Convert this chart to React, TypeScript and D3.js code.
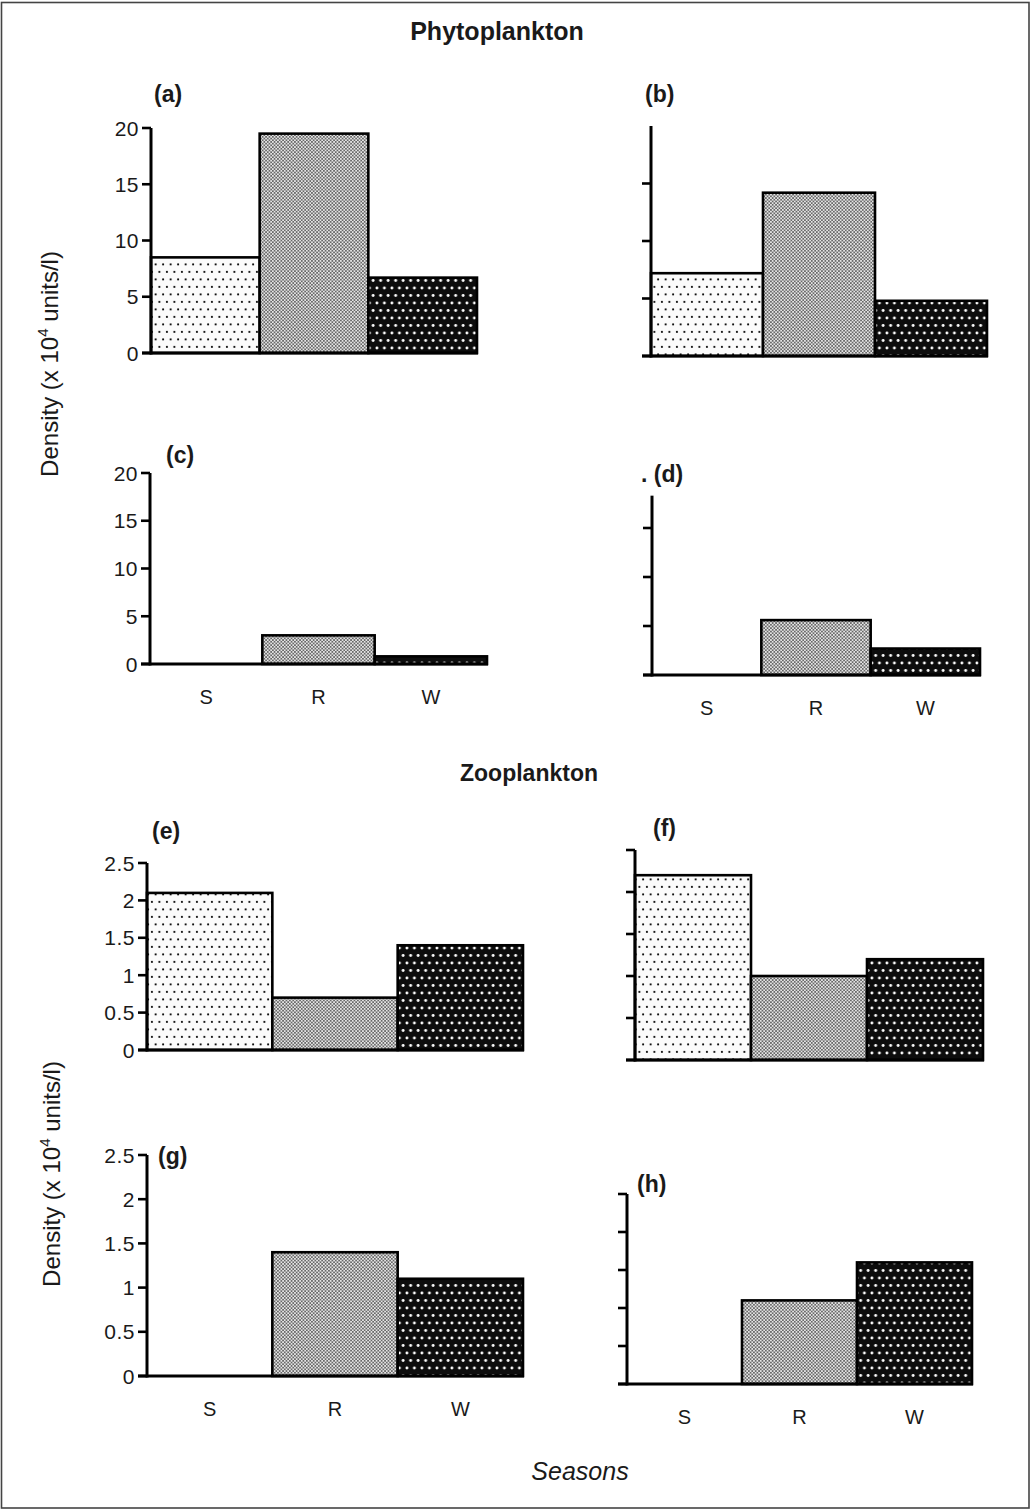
import React from "react";
import * as d3 from "d3";

// Seasons on the x axis: Summer, Rainy, Winter
const seasons = ["S", "R", "W"];

// Phytoplankton density (x 10^4 units/l) per station panel
const phytoA = [8.5, 19.5, 6.7];
const phytoB = [7.2, 14.2, 4.8];
const phytoC = [0, 3.0, 0.8];
const phytoD = [0, 5.6, 2.7];

// Zooplankton density (x 10^4 units/l) per station panel
const zooE = [2.1, 0.7, 1.4];
const zooF = [2.2, 1.0, 1.2];
const zooG = [0, 1.4, 1.1];
const zooH = [0, 1.1, 1.6];

// Axis tick values
const phytoTicks = [0, 5, 10, 15, 20];
const phytoMinorTicks = [0, 5, 10, 15];
const zooTicks = [0, 0.5, 1, 1.5, 2, 2.5];

const phytoMax = 20;
const zooMax = 2.5;

type Panel = {
  id: string;
  values: number[];
  max: number;
  ticks: number[];
  labeled: boolean;
  showSeasons: boolean;
  axisTopValue: number;
};

const panels: Panel[] = [
  { id: "a", values: phytoA, max: phytoMax, ticks: phytoTicks, labeled: true, showSeasons: false, axisTopValue: 20 },
  { id: "b", values: phytoB, max: phytoMax, ticks: phytoMinorTicks, labeled: false, showSeasons: false, axisTopValue: 20 },
  { id: "c", values: phytoC, max: phytoMax, ticks: phytoTicks, labeled: true, showSeasons: true, axisTopValue: 20 },
  { id: "d", values: phytoD, max: phytoMax, ticks: phytoMinorTicks, labeled: false, showSeasons: true, axisTopValue: 18.3 },
  { id: "e", values: zooE, max: zooMax, ticks: zooTicks, labeled: true, showSeasons: false, axisTopValue: 2.5 },
  { id: "f", values: zooF, max: zooMax, ticks: zooTicks, labeled: false, showSeasons: false, axisTopValue: 2.5 },
  { id: "g", values: zooG, max: zooMax, ticks: zooTicks, labeled: true, showSeasons: true, axisTopValue: 2.5 },
  { id: "h", values: zooH, max: zooMax, ticks: zooTicks, labeled: false, showSeasons: true, axisTopValue: 2.5 },
];

// Pixel frame of each panel: axis x, right end of bars, baseline y, y of the max value,
// and the position of the "(x)" tag.
const frames: Record<string, { x0: number; x1: number; base: number; top: number; tagX: number; tagY: number; tag: string }> = {
  a: { x0: 151, x1: 477, base: 353, top: 128, tagX: 154, tagY: 102, tag: "(a)" },
  b: { x0: 651, x1: 987, base: 356, top: 126, tagX: 645, tagY: 102, tag: "(b)" },
  c: { x0: 150, x1: 487, base: 664, top: 473, tagX: 166, tagY: 463, tag: "(c)" },
  d: { x0: 652, x1: 980, base: 675, top: 479, tagX: 641, tagY: 482, tag: ". (d)" },
  e: { x0: 147, x1: 523, base: 1050, top: 863, tagX: 152, tagY: 839, tag: "(e)" },
  f: { x0: 635, x1: 983, base: 1060, top: 850, tagX: 653, tagY: 836, tag: "(f)" },
  g: { x0: 147, x1: 523, base: 1376, top: 1155, tagX: 158, tagY: 1164, tag: "(g)" },
  h: { x0: 627, x1: 972, base: 1384, top: 1194, tagX: 637, tagY: 1192, tag: "(h)" },
};

const fillFor: Record<string, string> = { S: "url(#patS)", R: "url(#patR)", W: "url(#patW)" };

const FONT = "'Liberation Sans', Arial, Helvetica, sans-serif";
const INK = "#1a1a1a";

function fmt(v: number) {
  return String(v);
}

function BarPanel({ p }: { p: Panel }) {
  const f = frames[p.id];
  const x = d3.scaleBand<string>().domain(seasons).range([f.x0, f.x1]).padding(0);
  const y = d3.scaleLinear().domain([0, p.max]).range([f.base, f.top]);
  const tickLen = 9;
  return (
    <g>
      {/* bars */}
      {seasons.map((s, i) => {
        const v = p.values[i];
        if (v <= 0) return null;
        return (
          <rect
            key={s}
            x={x(s)!}
            y={y(v)}
            width={x.bandwidth()}
            height={y(0) - y(v)}
            fill={fillFor[s]}
            stroke="#000"
            strokeWidth={2.6}
          />
        );
      })}
      {/* y axis */}
      <line x1={f.x0} x2={f.x0} y1={y(0) + 1.5} y2={y(p.axisTopValue)} stroke="#000" strokeWidth={3} />
      {p.ticks.map((t) => (
        <g key={t}>
          <line x1={f.x0 - tickLen} x2={f.x0} y1={y(t)} y2={y(t)} stroke="#000" strokeWidth={2.6} />
          {p.labeled && (
            <text
              x={f.x0 - tickLen - 3}
              y={y(t)}
              dy="0.36em"
              textAnchor="end"
              fontFamily={FONT}
              fontSize={21}
              letterSpacing={0.5}
              fill={INK}
            >
              {fmt(t)}
            </text>
          )}
        </g>
      ))}
      {/* baseline */}
      <line x1={f.x0 - tickLen} x2={f.x1 + 1} y1={y(0)} y2={y(0)} stroke="#000" strokeWidth={3} />
      {/* season labels */}
      {p.showSeasons &&
        seasons.map((s) => (
          <text
            key={s}
            x={x(s)! + x.bandwidth() / 2}
            y={f.base + 40}
            textAnchor="middle"
            fontFamily={FONT}
            fontSize={20}
            fill={INK}
          >
            {s}
          </text>
        ))}
      {/* panel tag */}
      <text x={f.tagX} y={f.tagY} fontFamily={FONT} fontSize={23} fontWeight="bold" fill={INK}>
        {f.tag}
      </text>
    </g>
  );
}

function DensityLabel({ cx, cy }: { cx: number; cy: number }) {
  return (
    <text
      transform={`translate(${cx},${cy}) rotate(-90)`}
      textAnchor="middle"
      fontFamily={FONT}
      fontSize={24}
      fill={INK}
    >
      Density (x 10
      <tspan dy={-10} fontSize={15}>4</tspan>
      <tspan dy={10}> units/l)</tspan>
    </text>
  );
}

export default function App() {
  const W = 1031;
  const H = 1510;
  return (
    <svg
      width={W}
      height={H}
      viewBox={`0 0 ${W} ${H}`}
      style={{ position: "absolute", left: 0, top: 0, background: "#fff" }}
    >
      <defs>
        <pattern id="patS" width={7.5} height={15} patternUnits="userSpaceOnUse">
          <rect width={7.5} height={15} fill="#fbfbfb" />
          <circle cx={1.9} cy={1.9} r={1.05} fill="#111" />
          <circle cx={5.65} cy={9.4} r={1.05} fill="#111" />
        </pattern>
        <pattern id="patR" width={3.4} height={3.4} patternUnits="userSpaceOnUse">
          <rect width={3.4} height={3.4} fill="#e6e6e6" />
          <circle cx={0.85} cy={0.85} r={0.8} fill="#303030" />
          <circle cx={2.55} cy={2.55} r={0.8} fill="#303030" />
        </pattern>
        <pattern id="patW" width={7.5} height={15} patternUnits="userSpaceOnUse">
          <rect width={7.5} height={15} fill="#0d0d0d" />
          <circle cx={1.9} cy={3} r={1.45} fill="#fff" />
          <circle cx={5.65} cy={10.5} r={1.45} fill="#fff" />
        </pattern>
      </defs>

      {/* outer frame */}
      <rect x={1.5} y={2.5} width={W - 3.5} height={H - 4.5} fill="none" stroke="#444" strokeWidth={1.6} />

      <text x={497} y={40} textAnchor="middle" fontFamily={FONT} fontSize={25} fontWeight="bold" fill={INK}>
        Phytoplankton
      </text>
      <text x={529} y={781} textAnchor="middle" fontFamily={FONT} fontSize={23} fontWeight="bold" fill={INK}>
        Zooplankton
      </text>

      <DensityLabel cx={58} cy={364} />
      <DensityLabel cx={60} cy={1174} />

      {panels.map((p) => (
        <BarPanel key={p.id} p={p} />
      ))}

      <text x={580} y={1480} textAnchor="middle" fontFamily={FONT} fontSize={25} fontStyle="italic" fill={INK}>
        Seasons
      </text>
    </svg>
  );
}
